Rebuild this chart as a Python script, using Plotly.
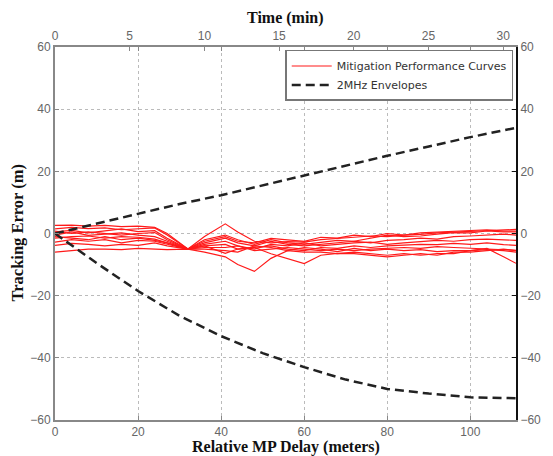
import plotly.graph_objects as go

# Relative MP delay sample points (meters)
delay = [0, 4, 8, 12, 16, 20, 24, 27, 32, 36, 41, 44, 48, 52, 56, 60, 64, 68, 72,
         76, 80, 84, 88, 92, 96, 100, 104, 108, 111]

# Mitigation performance curves (tracking error, m)
c1 = [2.6, 2.7, 2.4, 2.6, 2.2, 2.4, 2.0, 0.0, -5, -1, 3.1, 0.5, -2.5, -3, -2.6, -2.8, -2.0, -1.5, -1.2, -0.8, -1.0, -0.5, -0.3, 0.2, 0.4, 0.6, 0.9, 1.2, 1.3]
c2 = [1.5, 2.0, 1.6, 1.8, 1.2, 1.5, 1.8, -0.5, -5, -2, -0.5, -2, -3.5, -2, -3, -3.5, -2.8, -2.2, -2.5, -1.5, -0.5, -1.0, -0.8, -0.2, 0.3, 0.2, 0.8, 0.5, 0.5]
c3 = [0.5, 1.0, 0.2, 0.8, 1.5, 0.6, 0.9, -1.5, -5, -3, -1.5, -3, -4, -2.5, -3.5, -4, -3.5, -3, -2.5, -3, -2.2, -2, -1.5, -1.8, -1, -0.8, -0.6, -0.2, -0.5]
c4 = [-0.5, 0.5, -0.6, -0.2, 0.2, -0.5, -1, -2.5, -5, -3.5, -2.5, -4, -5, -3.5, -4, -3, -4, -3.5, -3, -2.8, -3.5, -3, -2.5, -2.2, -2.5, -2.0, -1.8, -2.0, -2.2]
c5 = [-1.5, -1.0, -0.8, -1.5, -1.0, -1.2, -1.8, -3, -5, -4, -3.5, -5, -4.5, -4, -5, -5.5, -4.5, -4.8, -4, -4.5, -4, -3.8, -3.5, -3.6, -3.2, -3.5, -3.0, -3.6, -3.8]
c6 = [-2.8, -2, -2.5, -2, -3, -2.2, -2.5, -3.5, -5, -4.5, -4.5, -4, -5.5, -5, -4.5, -5, -5.5, -5, -5.5, -5, -4.8, -4.5, -4.8, -4.2, -4.5, -4.8, -5.0, -5.2, -5.4]
c7 = [-3.8, -3.2, -3.5, -4, -3.5, -3.8, -3, -4, -5, -5, -5.5, -6, -4, -4.5, -5.5, -4.5, -5, -5.8, -4.8, -5.5, -5, -5.5, -5.2, -5.8, -5.5, -5.5, -5.2, -5.5, -6.0]
c8 = [-6, -5.5, -5, -5, -5.2, -4.8, -5, -5.2, -5, -6, -7.5, -10, -12.2, -8, -5.5, -6, -6, -6.5, -6, -6.5, -7, -6.5, -7, -6.5, -6.5, -5.5, -4.8, -7.5, -9.6]
c9 = [-1.0, -1.5, -2.0, -1.0, -2.0, -1.5, -2.2, -3, -5, -4, -6.4, -5, -4.5, -6.5, -8, -9.7, -7, -6.4, -6.5, -7, -7.5, -7, -6.5, -7, -6, -6, -5.5, -5, -5.5]
c10 = [0.8, 0, 0.5, 0, -0.5, 0, 0.3, -2, -5, -2.5, -1, -2.5, -3, -1.6, -2, -2.5, -1.2, -1.5, -0.5, -1, 0, -0.5, 0.2, 0.5, 0.8, 1.0, 1.2, 0.8, 0.8]
curves = [c1, c2, c3, c4, c5, c6, c7, c8, c9, c10]

# 2MHz envelopes
env_x = [0, 10, 20, 30, 40, 50, 60, 70, 80, 90, 100, 111]
env_upper = [0, 3.2, 6.5, 9.5, 12.3, 15.5, 18.8, 22, 25, 28, 31, 34]
env_lower = [0, -9.5, -18.5, -26.5, -33, -38.5, -43, -47, -50, -51.5, -52.7, -53]

# Axis ticks
y_ticks = [-60, -40, -20, 0, 20, 40, 60]
x_ticks = [0, 20, 40, 60, 80, 100]
time_ticks = [0, 5, 10, 15, 20, 25, 30]
time_max = 30.86
delay_max = 111

fig = go.Figure()
for i, c in enumerate(curves):
    fig.add_trace(go.Scatter(x=delay, y=c, mode="lines",
                             line=dict(color="#ff1a1a", width=1.2),
                             name="Mitigation Performance Curves",
                             legendgroup="mit", showlegend=(i == 0)))
fig.add_trace(go.Scatter(x=env_x, y=env_upper, mode="lines",
                         line=dict(color="#222222", width=2.5, dash="9px,5px"),
                         name="2MHz Envelopes", legendgroup="env"))
fig.add_trace(go.Scatter(x=env_x, y=env_lower, mode="lines",
                         line=dict(color="#222222", width=2.5, dash="9px,5px"),
                         name="2MHz Envelopes", legendgroup="env", showlegend=False))
# invisible traces for top and right axes
fig.add_trace(go.Scatter(x=[0, time_max], y=[0, 0], xaxis="x2", yaxis="y",
                         mode="lines", line=dict(width=0), showlegend=False,
                         hoverinfo="skip"))
fig.add_trace(go.Scatter(x=[0, delay_max], y=[0, 0], xaxis="x", yaxis="y2",
                         mode="lines", line=dict(width=0), showlegend=False,
                         hoverinfo="skip"))

tickfont = dict(family="Liberation Sans, Arial, sans-serif", size=12, color="#666666")
serif = "Liberation Serif, Times New Roman, serif"

fig.update_layout(
    width=553, height=456,
    margin=dict(l=55, r=26, t=47, b=36),
    paper_bgcolor="white", plot_bgcolor="white",
    showlegend=True,
    legend=dict(x=0.994, y=0.992, xanchor="right", yanchor="top",
                bgcolor="white", bordercolor="#777777", borderwidth=1.5,
                font=dict(family="DejaVu Sans, sans-serif", size=11, color="#333333"),
                tracegroupgap=0, itemwidth=40),
    xaxis=dict(range=[0, delay_max], tickvals=x_ticks, ticktext=[str(v) for v in x_ticks],
               showgrid=True, gridcolor="#bbbbbb", griddash="dot", gridwidth=1,
               zeroline=False, showline=True, linecolor="#888888", linewidth=2,
               mirror="ticks", ticks="inside", ticklen=4, tickcolor="#888888",
               tickfont=tickfont, ticklabelstandoff=0),
    xaxis2=dict(range=[0, time_max], tickvals=time_ticks, overlaying="x", side="top",
                showgrid=False, zeroline=False, showline=True, linecolor="#888888",
                linewidth=2, ticks="inside", ticklen=4, tickcolor="#888888",
                tickfont=tickfont),
    yaxis=dict(range=[-60, 60], tickvals=y_ticks, showgrid=True, gridcolor="#bbbbbb",
               griddash="dot", gridwidth=1, zeroline=False, showline=True,
               linecolor="#888888", linewidth=2, ticks="inside", ticklen=4,
               tickcolor="#888888", tickfont=tickfont),
    yaxis2=dict(range=[-60, 60], tickvals=y_ticks, overlaying="y", side="right",
                showgrid=False, zeroline=False, showline=True, linecolor="#111111",
                linewidth=2, ticks="inside", ticklen=4, tickcolor="#111111",
                tickfont=tickfont),
    annotations=[
        dict(text="<b>Time (min)</b>", xref="paper", yref="paper", x=0.5, y=1.0,
             yshift=29, showarrow=False, font=dict(family=serif, size=16, color="#111111"),
             xanchor="center", yanchor="middle"),
        dict(text="<b>Relative MP Delay (meters)</b>", xref="paper", yref="paper",
             x=0.5, y=0, yshift=-27, showarrow=False,
             font=dict(family=serif, size=16, color="#111111"),
             xanchor="center", yanchor="middle"),
        dict(text="<b>Tracking Error (m)</b>", xref="paper", yref="paper",
             x=0, y=0.5, xshift=-38, showarrow=False,
             font=dict(family=serif, size=16.5, color="#111111"), textangle=-90,
             xanchor="center", yanchor="middle"),
    ],
)

fig.write_html("out.html")
